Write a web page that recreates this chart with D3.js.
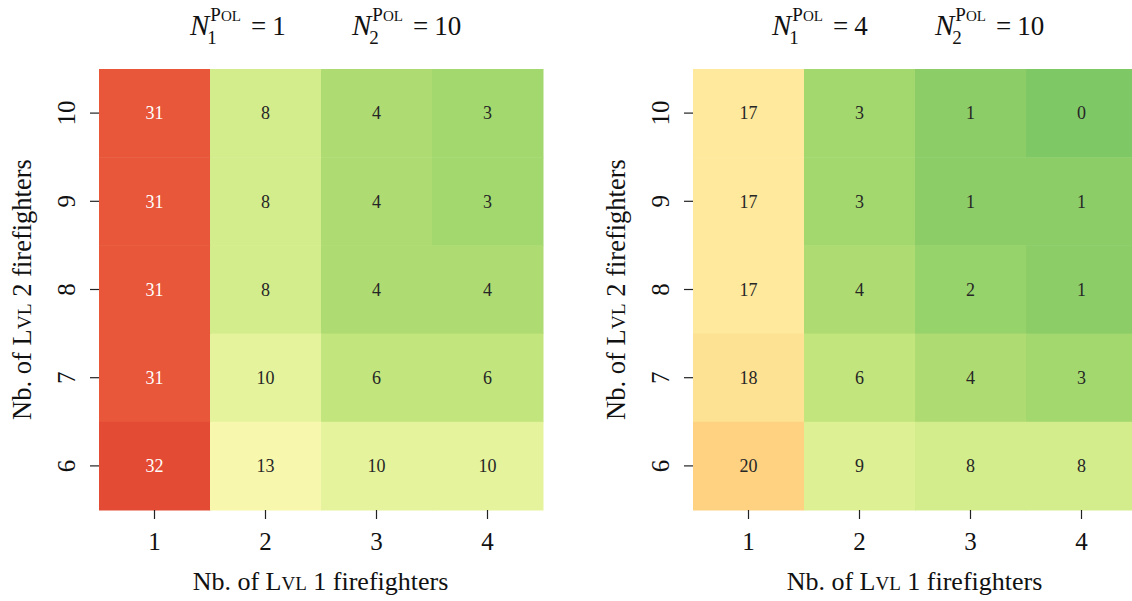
<!DOCTYPE html>
<html>
<head>
<meta charset="utf-8">
<script src="https://cdn.jsdelivr.net/npm/d3@7"></script>
<style>
  html, body { margin: 0; padding: 0; background: #fff; }
  svg { display: block; }
  text { font-family: "Liberation Serif", "DejaVu Serif", serif; fill: #111; }
</style>
</head>
<body>
<svg id="chart" width="1132" height="601"></svg>
<script>
// ---- data ----
const lvl1Categories = [1, 2, 3, 4];          // x: Nb. of Lvl 1 firefighters
const lvl2Categories = [10, 9, 8, 7, 6];      // y: Nb. of Lvl 2 firefighters (top to bottom)
// Left panel: N1 = 1, N2 = 10  (rows = lvl2 10..6, cols = lvl1 1..4)
const leftValues = [
  [31, 8, 4, 3],
  [31, 8, 4, 3],
  [31, 8, 4, 4],
  [31, 10, 6, 6],
  [32, 13, 10, 10]
];
// Right panel: N1 = 4, N2 = 10
const rightValues = [
  [17, 3, 1, 0],
  [17, 3, 1, 1],
  [17, 4, 2, 1],
  [18, 6, 4, 3],
  [20, 9, 8, 8]
];
const leftN = [1, 10];
const rightN = [4, 10];

// ---- layout ----
const svg = d3.select("#chart");
const W = 444, plotTop = 69, plotBottom = 510;
const panels = [
  { x0: 99, values: leftValues, n: leftN, titleX: [190, 352] },
  { x0: 693, values: rightValues, n: rightN, titleX: [772, 935] }
];
const color = d3.scaleSequential(d3.interpolateRdYlGn).domain([39.5, -12.5]);

panels.forEach(p => {
  const g = svg.append("g");
  const x = d3.scaleBand().domain(lvl1Categories).range([p.x0, p.x0 + W]);
  const y = d3.scaleBand().domain(lvl2Categories).range([plotTop, plotBottom]);

  const cells = [];
  lvl2Categories.forEach((r, i) => lvl1Categories.forEach((c, j) => cells.push({ r, c, v: p.values[i][j] })));

  g.selectAll("rect").data(cells).join("rect")
    .attr("x", d => x(d.c)).attr("y", d => y(d.r))
    .attr("width", x.bandwidth() + 0.5).attr("height", y.bandwidth() + 0.5)
    .attr("fill", d => color(d.v));

  g.selectAll("text.val").data(cells).join("text")
    .attr("class", "val")
    .attr("x", d => x(d.c) + x.bandwidth() / 2)
    .attr("y", d => y(d.r) + y.bandwidth() / 2)
    .attr("text-anchor", "middle").attr("dy", "0.35em")
    .style("font-size", "18px")
    .style("fill", d => d.v > 25 ? "#fff" : "#262626")
    .text(d => d.v);

  // x axis
  const xa = g.append("g").attr("transform", `translate(0,${plotBottom})`)
    .call(d3.axisBottom(x).tickSize(9).tickPadding(13));
  xa.select(".domain").remove();
  xa.selectAll("line").attr("stroke", "#222").attr("stroke-width", 1.2);
  xa.selectAll("text").style("font-size", "25px").attr("fill", "#111")
    .style("font-family", '"Liberation Serif", serif');

  // y axis
  const ya = g.append("g").attr("transform", `translate(${p.x0},0)`)
    .call(d3.axisLeft(y).tickSize(9).tickPadding(0));
  ya.select(".domain").remove();
  ya.selectAll("line").attr("stroke", "#222").attr("stroke-width", 1.2);
  ya.selectAll("text").style("font-size", "25px").attr("fill", "#111")
    .style("font-family", '"Liberation Serif", serif')
    .attr("text-anchor", "middle").attr("x", 0).attr("dy", 0)
    .attr("transform", "translate(-33,0) rotate(-90)")
    .attr("y", 0).attr("dominant-baseline", "central");

  // x title
  const xt = g.append("text")
    .attr("x", p.x0 + W / 2 - 0.5).attr("y", 590)
    .attr("text-anchor", "middle").style("font-size", "26px");
  xt.append("tspan").text("Nb. of L");
  xt.append("tspan").style("font-size", "19px").text("VL");
  xt.append("tspan").text(" 1 firefighters");

  // y title
  const yt = g.append("text")
    .attr("transform", `translate(${p.x0 - 68},${(plotTop + plotBottom) / 2}) rotate(-90)`)
    .attr("text-anchor", "middle").style("font-size", "26.5px");
  yt.append("tspan").text("Nb. of L");
  yt.append("tspan").style("font-size", "19.5px").text("VL");
  yt.append("tspan").text(" 2 firefighters");

  // title: N_1^Pol = a     N_2^Pol = b
  const parts = [
    { sub: "1", val: p.n[0], x: p.titleX[0] },
    { sub: "2", val: p.n[1], x: p.titleX[1] }
  ];
  parts.forEach(pt => {
    const tg = g.append("g").attr("transform", `translate(${pt.x},0)`);
    const tN = tg.append("text").attr("y", 35).style("font-size", "29px").style("font-style", "italic").text("N");
    const nW = tN.node().getComputedTextLength();
    const sup = tg.append("text").attr("x", nW + 1).attr("y", 21).style("font-size", "19px");
    sup.append("tspan").text("P");
    sup.append("tspan").style("font-size", "15px").text("OL");
    tg.append("text").attr("x", nW - 2).attr("y", 44).style("font-size", "19px").text(pt.sub);
    const supW = sup.node().getComputedTextLength();
    const eq = tg.append("text").attr("x", nW + 1 + supW + 10).attr("y", 35).style("font-size", "27px");
    eq.append("tspan").text("=");
    eq.append("tspan").attr("dx", 6).text(pt.val);
  });
});
</script>
</body>
</html>
